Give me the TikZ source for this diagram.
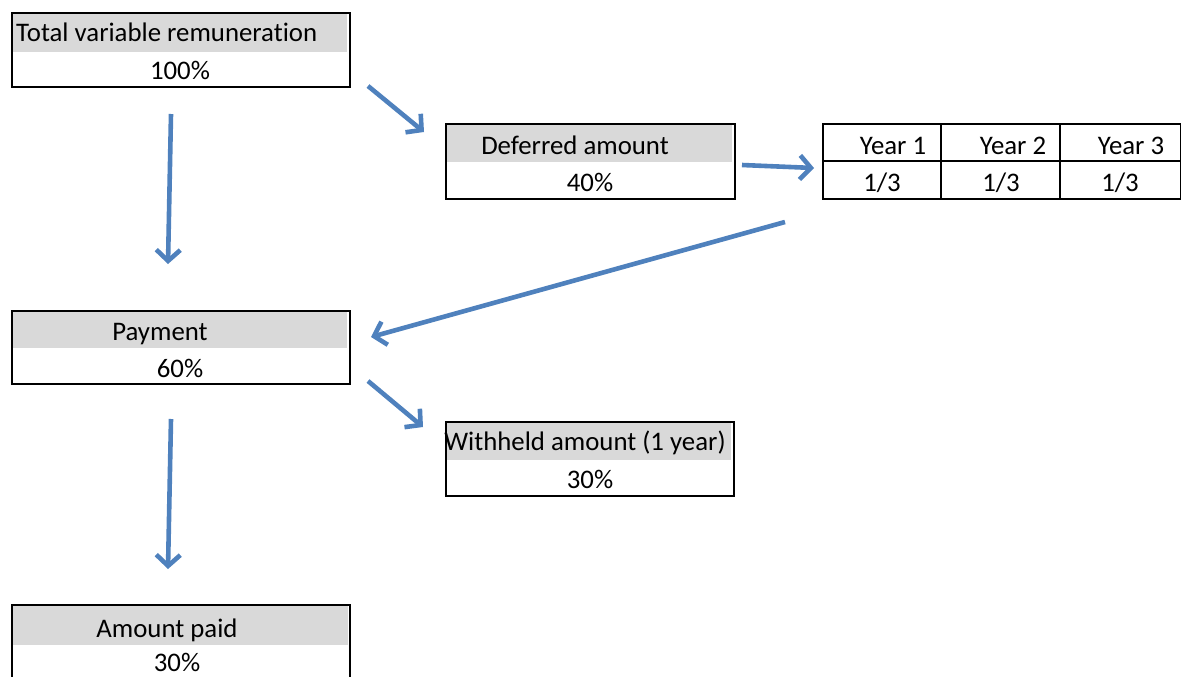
\documentclass[tikz,border=0pt]{standalone}
\usepackage{fontspec}
\setmainfont[Ligatures=NoCommon]{Carlito}
\usetikzlibrary{arrows.meta}
\definecolor{arrowblue}{RGB}{79,129,189}
\definecolor{hdrgray}{RGB}{217,217,217}
\begin{document}
\begin{tikzpicture}[x=1pt,y=-1pt,
  frame/.style={draw=black,line width=1.8pt,inner sep=0pt,anchor=north west},
  hdr/.style={fill=hdrgray,draw=none,inner sep=0pt,anchor=north west},
  lbl/.style={font=\fontsize{26.8}{30}\selectfont,inner sep=0pt,anchor=base},
  flow/.style={draw=arrowblue,line width=4.6pt,-{Straight Barb[length=11pt,width=24pt,line width=4.6pt]}}]
\useasboundingbox (0,0) rectangle (1181,677);
% header fills
\node[hdr,minimum width=336pt,minimum height=40pt] (h1) at (11,12) {};
\node[hdr,minimum width=287pt,minimum height=39pt] (h2) at (445,123) {};
\node[hdr,minimum width=336pt,minimum height=38pt] (h4) at (11,310) {};
\node[hdr,minimum width=286pt,minimum height=39pt] (h5) at (445,421) {};
\node[hdr,minimum width=336pt,minimum height=40pt] (h6) at (12,605) {};
% frames
\node[frame,minimum width=338pt,minimum height=74pt] (b1) at (11,12) {};
\node[frame,minimum width=289pt,minimum height=75pt] (b2) at (445,123) {};
\node[frame,minimum width=358pt,minimum height=75pt] (b3) at (822,123) {};
\node[frame,minimum width=338pt,minimum height=73pt] (b4) at (11,310) {};
\node[frame,minimum width=288pt,minimum height=74pt] (b5) at (445,421) {};
\coordinate (b6sw) at (12,680);
\coordinate (b6nw) at (12,605);
\coordinate (b6ne) at (350,605);
\coordinate (b6se) at (350,680);
\draw[line width=1.8pt] (b6sw) -- (b6nw) -- (b6ne) -- (b6se);
% year table grid
\coordinate (g1t) at (941,123); \coordinate (g1b) at (941,198);
\coordinate (g2t) at (1060,123); \coordinate (g2b) at (1060,198);
\coordinate (gml) at (822,161); \coordinate (gmr) at (1180,161);
\draw[line width=1.8pt] (g1t) -- (g1b) (g2t) -- (g2b) (gml) -- (gmr);
% texts
\node[lbl,anchor=base west] (t1) at (16,42) {Total variable remuneration};
\node[lbl] (v1) at (180,80) {100\%};
\node[lbl] (t2) at (575,154) {Deferred amount};
\node[lbl] (v2) at (590,191) {40\%};
\node[lbl] (y1) at (893,154) {Year 1};
\node[lbl] (y2) at (1013,154) {Year 2};
\node[lbl] (y3) at (1131,154) {Year 3};
\node[lbl] (f1) at (882,191) {1/3};
\node[lbl] (f2) at (1001,191) {1/3};
\node[lbl] (f3) at (1120,191) {1/3};
\node[lbl] (t4) at (160,340) {Payment};
\node[lbl] (v4) at (180,377) {60\%};
\node[lbl] (t5) at (585,450) {Withheld amount (1 year)};
\node[lbl] (v5) at (590,488) {30\%};
\node[lbl] (t6) at (167,637) {Amount paid};
\node[lbl] (v6) at (177,671) {30\%};
% arrow end points
\coordinate (a1s) at (368,86);  \coordinate (a1e) at (424,132);
\coordinate (a2s) at (171,114); \coordinate (a2e) at (168,264);
\coordinate (a3s) at (742,165); \coordinate (a3e) at (814,168);
\coordinate (a4s) at (785,222); \coordinate (a4e) at (371,337);
\coordinate (a5s) at (368,381); \coordinate (a5e) at (423,427);
\coordinate (a6s) at (171,419); \coordinate (a6e) at (168,569);
\draw[flow] (a1s) -- (a1e);
\draw[flow] (a2s) -- (a2e);
\draw[flow] (a3s) -- (a3e);
\draw[flow] (a4s) -- (a4e);
\draw[flow] (a5s) -- (a5e);
\draw[flow] (a6s) -- (a6e);
\end{tikzpicture}
\end{document}
